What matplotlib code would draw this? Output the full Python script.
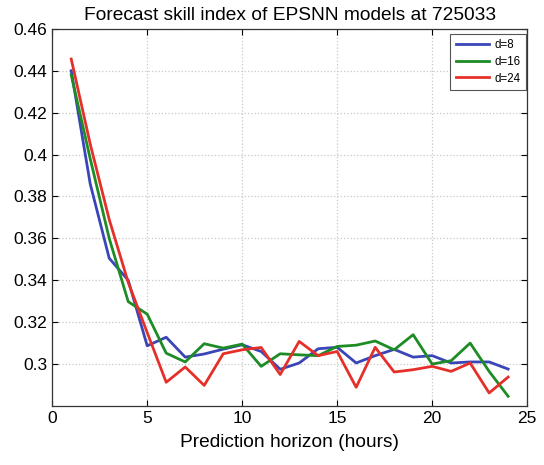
import numpy as np
import matplotlib
matplotlib.use('Agg')
import matplotlib.pyplot as plt

plt.rcParams['font.family'] = ['Liberation Sans', 'DejaVu Sans']

# ── data ─────────────────────────────────────────────────────────────────────
horizon = list(range(1, 25))

skill_d8 = [0.440, 0.386, 0.3505, 0.340, 0.3087, 0.3128, 0.3033, 0.3048,
            0.3071, 0.3092, 0.306, 0.2975, 0.3005, 0.3073, 0.308, 0.3005,
            0.304, 0.307, 0.3033, 0.304, 0.3005, 0.301, 0.301, 0.2976]

skill_d16 = [0.438, 0.398, 0.360, 0.3298, 0.3238, 0.3052, 0.301, 0.3097,
             0.3076, 0.3095, 0.2989, 0.3049, 0.3044, 0.304, 0.3084, 0.309,
             0.311, 0.3068, 0.314, 0.300, 0.3016, 0.310, 0.2965, 0.2846]

skill_d24 = [0.4456, 0.405, 0.369, 0.339, 0.315, 0.2913, 0.2986, 0.2898,
             0.3049, 0.3068, 0.3079, 0.295, 0.3108, 0.304, 0.306, 0.2889,
             0.308, 0.2962, 0.2973, 0.2989, 0.2965, 0.3005, 0.2862, 0.2938]

series = [('d=8', skill_d8, '#3a45b8'),
          ('d=16', skill_d16, '#1e8c25'),
          ('d=24', skill_d24, '#e5302a')]

# ── plot ──────────────────────────────────────────────────────────────────────
fig = plt.figure(figsize=(5.44, 4.65), dpi=100)
ax = fig.add_axes([0.096, 0.127, 0.873, 0.811])

for label, vals, col in series:
    ax.plot(horizon, vals, '-', color=col, linewidth=2.0, label=label)

ax.set_xlim(0, 25)
ax.set_ylim(0.28, 0.46)
ax.set_xticks([0, 5, 10, 15, 20, 25])
yt = [0.30, 0.32, 0.34, 0.36, 0.38, 0.40, 0.42, 0.44, 0.46]
ax.set_yticks(yt)
ax.set_yticklabels(['0.3', '0.32', '0.34', '0.36', '0.38', '0.4', '0.42', '0.44', '0.46'])
ax.tick_params(direction='in', top=True, right=True, labelsize=12.5, length=4)
ax.grid(True, color='#c8c8c8', linestyle=':', linewidth=0.9)
for s in ax.spines.values():
    s.set_color('#333333')
    s.set_linewidth(0.9)

ax.set_title('Forecast skill index of EPSNN models at 725033', fontsize=13.8, pad=6)
ax.set_xlabel('Prediction horizon (hours)', fontsize=13.8, labelpad=6)

leg = ax.legend(loc='upper right', fontsize=8.3, handlelength=2.9, handletextpad=0.5,
                fancybox=False, framealpha=1, borderpad=0.45, labelspacing=0.4,
                borderaxespad=0, bbox_to_anchor=(0.998, 0.986))
leg.get_frame().set_edgecolor('#555555')
leg.get_frame().set_linewidth(0.8)

plt.savefig('out.png', dpi=100)
plt.close()
